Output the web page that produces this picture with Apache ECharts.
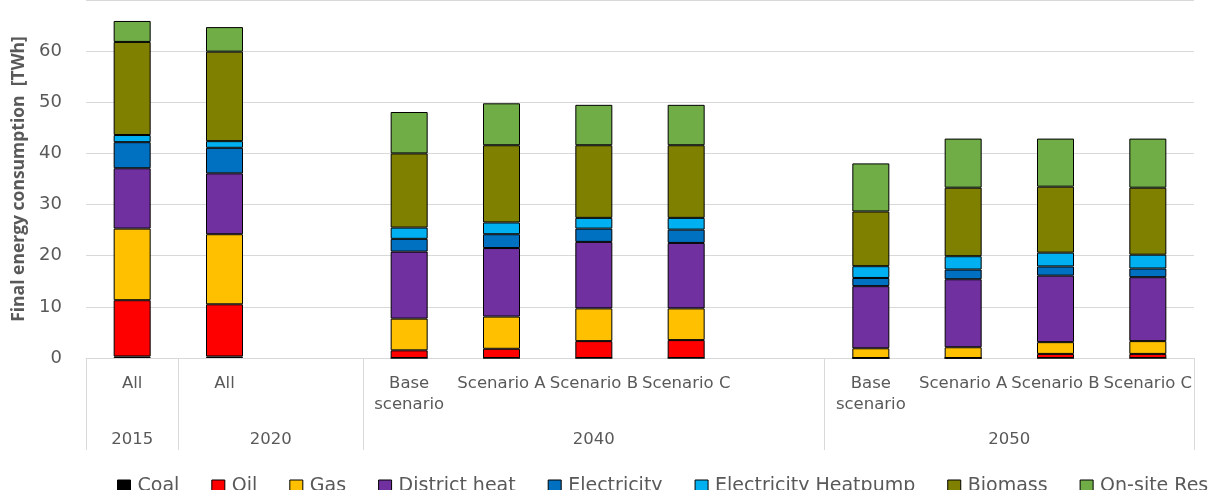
<!DOCTYPE html>
<html>
<head>
<meta charset="utf-8">
<script src="https://cdn.jsdelivr.net/npm/echarts@6/dist/echarts.min.js"></script>
<style>
html,body{margin:0;padding:0;background:#fff;}
#chart{width:1210px;height:490px;}
</style>
</head>
<body>
<div id="chart"></div>
<script>
// Categories (empty strings are the blank gaps between year groups)
var categories = ["All", "All", "", "Base\nscenario", "Scenario A", "Scenario B", "Scenario C", "", "Base\nscenario", "Scenario A", "Scenario B", "Scenario C"];
// Year groups and how many category slots each spans
var years = ["2015", "2020", "2040", "2050"];
var yearSpans = [1, 2, 5, 4];

var seriesNames = ["Coal", "Oil", "Gas", "District heat", "Electricity", "Electricity Heatpump", "Biomass", "On-site Res"];
var seriesColors = ["#000000", "#FF0000", "#FFC000", "#7030A0", "#0070C0", "#00B0F0", "#808000", "#70AD47"];

var coal        = [0.3, 0.3, null, 0,    0,    0,    0,    null, 0,    0,    0,    0];
var oil         = [11.0, 10.2, null, 1.5, 1.8,  3.3,  3.5,  null, 0,    0,    0.8,  0.8];
var gas         = [14.0, 13.7, null, 6.2, 6.3,  6.4,  6.2,  null, 1.9,  2.1,  2.3,  2.5];
var districtHeat= [11.8, 11.9, null, 13.1, 13.4, 13.0, 12.8, null, 12.15, 13.3, 13.0, 12.5];
var electricity = [5.1, 5.0, null, 2.5,  2.7,  2.6,  2.6,  null, 1.6,  1.9,  1.8,  1.7];
var heatpump    = [1.4, 1.3, null, 2.2,  2.3,  2.1,  2.3,  null, 2.3,  2.6,  2.7,  2.7];
var biomass     = [18.2, 17.5, null, 14.5, 15.1, 14.2, 14.2, null, 10.7, 13.4, 12.9, 13.1];
var onsiteRes   = [4.1, 4.8, null, 8.1,  8.2,  7.9,  7.9,  null, 9.4,  9.6,  9.4,  9.6];

var seriesData = [coal, oil, gas, districtHeat, electricity, heatpump, biomass, onsiteRes];

// Build a half-slot axis (boundaryGap false) for the year group row
var nSlots = categories.length;
var yearAxisData = [];
for (var i = 0; i <= nSlots * 2; i++) yearAxisData.push("");
var yearTickIdx = {0: true};
var pos = 0;
for (var g = 0; g < years.length; g++) {
  var center = pos * 2 + yearSpans[g];
  yearAxisData[center] = years[g];
  pos += yearSpans[g];
  yearTickIdx[pos * 2] = true;
}

var textColor = "#595959";
var lineColor = "#d9d9d9";
var fontFam = "DejaVu Sans";

var chart = echarts.init(document.getElementById("chart"), null, {renderer: "canvas"});
var series = seriesNames.map(function (name, k) {
  return {
    name: name,
    type: "bar",
    stack: "total",
    xAxisIndex: 0,
    barWidth: 37,
    data: seriesData[k].map(function (v) { return v === null ? "-" : v; }),
    itemStyle: { color: seriesColors[k], borderColor: "#000000", borderWidth: 1 },
    emphasis: { disabled: true }
  };
});

chart.setOption({
  animation: false,
  backgroundColor: "#ffffff",
  grid: { left: 86, right: 16, top: -4, bottom: 132, containLabel: false },
  legend: {
    data: seriesNames,
    left: 112,
    top: 472,
    width: 1400,
    icon: "rect",
    itemWidth: 13,
    itemHeight: 13,
    itemGap: 32,
    itemStyle: { borderColor: "#000000", borderWidth: 1 },
    textStyle: { fontFamily: fontFam, fontSize: 19, color: textColor, padding: [0, 0, 0, 2] }
  },
  xAxis: [
    {
      type: "category",
      data: categories,
      position: "bottom",
      axisLine: { show: true, lineStyle: { color: lineColor, width: 1 } },
      axisTick: { show: false },
      axisLabel: {
        interval: 0,
        hideOverlap: false,
        margin: 15,
        fontFamily: fontFam,
        fontSize: 16.5,
        color: textColor,
        lineHeight: 21
      },
      splitLine: { show: false }
    },
    {
      type: "category",
      data: yearAxisData,
      boundaryGap: false,
      position: "bottom",
      offset: 0,
      axisLine: { show: false },
      axisTick: {
        show: true,
        length: 92,
        interval: function (index) { return !!yearTickIdx[index]; },
        lineStyle: { color: lineColor, width: 1 }
      },
      axisLabel: {
        interval: function (index, value) { return value !== ""; },
        margin: 73,
        fontFamily: fontFam,
        fontSize: 16.5,
        color: textColor
      },
      splitLine: { show: false }
    }
  ],
  yAxis: {
    type: "value",
    min: 0,
    max: 70,
    interval: 10,
    name: "Final energy consumption  [TWh]",
    nameLocation: "middle",
    nameGap: 55,
    nameTextStyle: { fontFamily: "Open Sans", fontWeight: "bold", fontSize: 17.5, color: textColor },
    axisLine: { show: false },
    axisTick: { show: false },
    axisLabel: {
      margin: 24,
      fontFamily: fontFam,
      fontSize: 18,
      color: textColor,
      formatter: function (v) { return v === 70 ? "" : String(v); }
    },
    splitLine: { lineStyle: { color: lineColor, width: 1 } }
  },
  series: series
});
</script>
</body>
</html>
